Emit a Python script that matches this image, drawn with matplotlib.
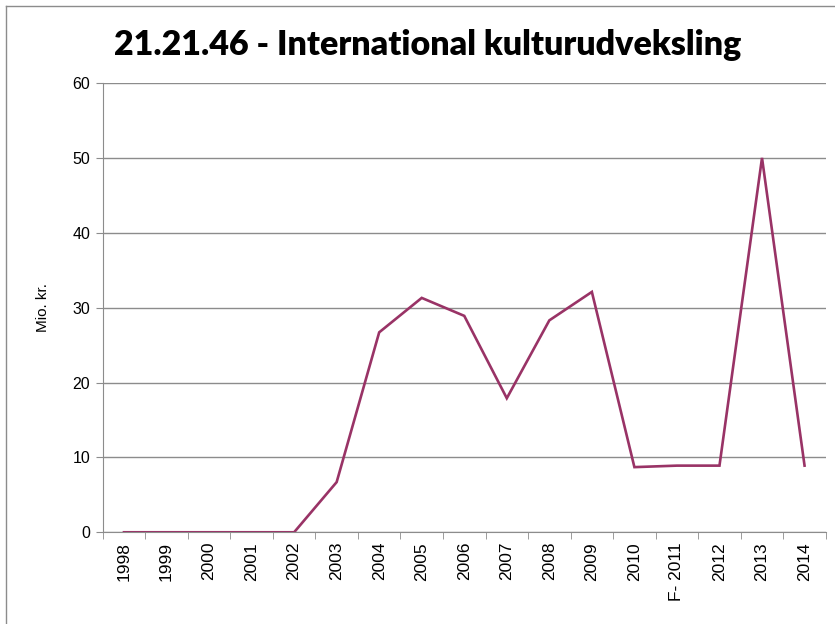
import matplotlib.pyplot as plt
import numpy as np
from matplotlib.lines import Line2D

years = ['1998', '1999', '2000', '2001', '2002', '2003', '2004', '2005', '2006',
         '2007', '2008', '2009', '2010', 'F- 2011', '2012', '2013', '2014']
values = [0, 0, 0, 0, 0, 6.7, 26.7, 31.3, 28.9, 17.9, 28.3, 32.1, 8.7, 8.9, 8.9, 50.0, 8.9]

plt.rcParams['font.family'] = ['Liberation Sans', 'DejaVu Sans']

fig = plt.figure(figsize=(8.35, 6.24), dpi=100)
ax = fig.add_axes([0.123, 0.147, 0.866, 0.72])

x = np.arange(len(years))
ax.plot(x, values, color='#993366', linewidth=1.9, solid_joinstyle='miter')

ax.set_xlim(-0.5, len(years) - 0.5)
ax.set_ylim(0, 60)
ax.set_yticks(range(0, 61, 10))
ax.yaxis.grid(True, color='#8c8c8c', linewidth=1)
ax.set_axisbelow(True)

# category labels in the middle, tick marks between categories
ax.set_xticks(x)
ax.set_xticklabels(years, rotation=90, fontsize=12.5, va='top')
ax.tick_params(axis='x', length=0, pad=7)
ax.set_xticks(np.arange(-0.5, len(years)), minor=True)
ax.tick_params(axis='x', which='minor', length=5, color='#8c8c8c', direction='out')
ax.tick_params(axis='y', length=5, color='#8c8c8c', labelsize=11.5, pad=4)

for s in ['top', 'right']:
    ax.spines[s].set_visible(False)
for s in ['left', 'bottom']:
    ax.spines[s].set_color('#8c8c8c')

ax.set_ylabel('Mio. kr.', fontsize=11, labelpad=16)

fig.text(0.512, 0.928, '21.21.46 - International kulturudveksling', ha='center', va='center',
         fontsize=24.5, fontweight='heavy', family=['Lato', 'DejaVu Sans'])

# chart frame (left and top edge visible)
fig.add_artist(Line2D([6 / 835, 6 / 835], [0, 1 - 6 / 624], color='#8c8c8c', linewidth=1))
fig.add_artist(Line2D([6 / 835, 1], [1 - 6 / 624, 1 - 6 / 624], color='#8c8c8c', linewidth=1))

plt.savefig('out.png', dpi=100)
